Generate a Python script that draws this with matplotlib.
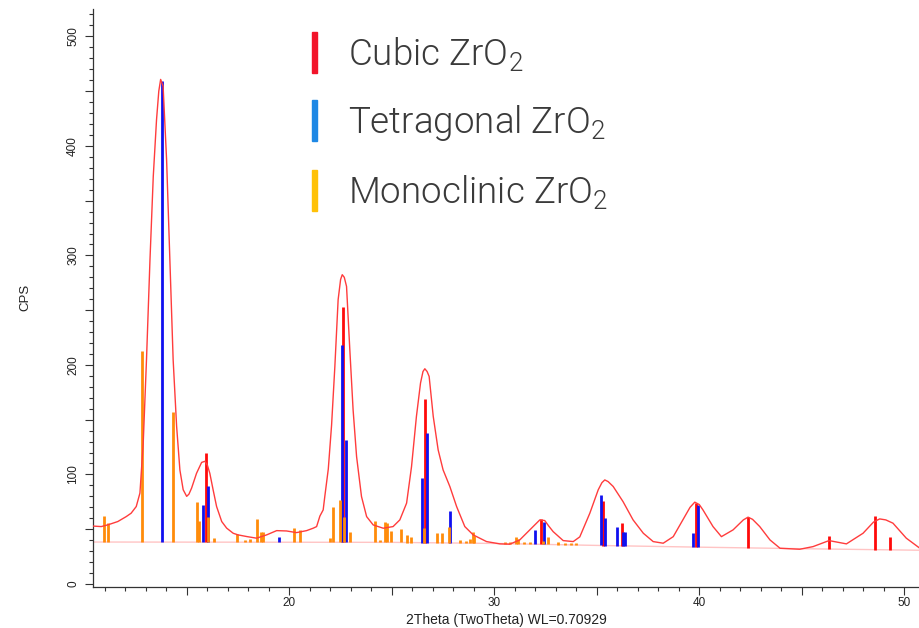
import numpy as np
import matplotlib
matplotlib.use("Agg")
import matplotlib.pyplot as plt
from matplotlib import font_manager as fm
from matplotlib.ticker import MultipleLocator, FuncFormatter
from matplotlib.patches import Rectangle

plt.rcParams["font.family"] = ["Liberation Sans", "DejaVu Sans"]

# measured diffraction profile
two_theta = [10.3, 10.82, 11.15, 11.63, 12.04, 12.28, 12.53, 12.71, 12.87, 13.03,
             13.2, 13.36, 13.52, 13.63, 13.72, 13.84, 14.01, 14.17, 14.33, 14.5,
             14.66, 14.82, 14.99, 15.1, 15.23, 15.47, 15.72, 15.88, 16.0, 16.12, 16.28, 16.45,
             16.7, 16.94, 17.26, 17.5, 17.92, 18.4, 18.89, 19.38, 19.86, 20.35,
             20.84, 21.16, 21.33, 21.49, 21.65, 21.73, 21.9, 22.06, 22.22, 22.38,
             22.5, 22.58, 22.68, 22.79, 22.95, 23.11, 23.28, 23.52, 23.77, 24.09,
             24.58, 25.06, 25.39, 25.72, 25.96, 26.2, 26.4, 26.52, 26.61, 26.72,
             26.82, 27.02, 27.26, 27.5, 27.83, 28.16, 28.56, 28.97, 29.62, 30.27,
             30.75, 31.24, 31.73, 32.05, 32.22, 32.46, 32.65, 32.87, 33.36, 33.85,
             34.17, 34.66, 35.07, 35.25, 35.39, 35.55, 35.8, 36.28, 36.77, 37.27,
             37.75, 38.24, 38.73, 39.2, 39.55, 39.78, 40.0, 40.18, 40.67, 41.08,
             41.65, 42.15, 42.38, 42.6, 42.95, 43.45, 43.94, 44.9, 45.55, 46.33,
             47.18, 47.99, 48.5, 48.8, 49.1, 49.45, 50.1, 50.72]
cps = [53, 52.4, 54, 57, 61.5, 64.6, 70.7, 83, 128.6, 204.8,
       296, 372, 424, 450, 460.7, 454.6, 387.6, 296, 204.8, 143.8,
       104, 86, 80, 82, 87.5, 101, 111, 112, 108.5, 101, 86, 70.7,
       57, 51, 46.3, 44.8, 43.3, 41.8, 44.8, 48.7, 48.4, 46.9,
       48.7, 50.9, 52.4, 62, 67.6, 80, 105, 145, 198.6, 259.6,
       278, 282.4, 280, 271.7, 213.9, 159, 116.3, 79.8, 61.5, 53.9,
       50.9, 52.4, 58.5, 73.8, 107, 153, 183.5, 194, 196.5, 194,
       189.5, 153, 122.4, 104.2, 89, 70.7, 52.4, 44.8, 38.7, 36.6,
       36.3, 40.2, 49.4, 55.5, 58.5, 57.9, 53, 47.8, 39.6, 38.7,
       43, 64.6, 86, 92.5, 95, 93.5, 89, 75.2, 58.5, 46.3,
       38.7, 37.2, 43.2, 58.5, 70, 74.7, 72.5, 67.6, 52.4, 43.2,
       49.4, 58.5, 61, 59, 52.4, 40.2, 32.6, 31.7, 34.1, 39.6,
       36.6, 46.3, 56.5, 59.4, 58.5, 55.5, 41.8, 33.2]

# background line under the reference patterns
bg_theta = [10.3, 25.0, 30.0, 35.0, 40.0, 45.0, 50.72]
bg_cps = [38.3, 38.0, 37.0, 35.2, 33.6, 32.2, 30.8]

# reference patterns: positions and peak tops
cubic_pos = [15.93, 22.64, 26.64, 32.27, 35.29, 36.23, 39.83, 42.38, 46.33, 48.58, 49.32]
cubic_top = [119.5, 253, 168.8, 59.4, 75.9, 56, 73.8, 61, 43.9, 62.2, 42.7]

tetra_pos = [13.78, 15.81, 16.02, 19.49, 22.59, 22.74, 26.46, 26.74, 27.86,
             32.0, 32.41, 35.19, 35.4, 36.0, 36.3, 36.4, 39.67, 39.93]
tetra_top = [459, 72, 89, 43, 218.5, 131, 96.6, 138.3, 66.4,
             49.4, 57, 81.6, 60.6, 51.8, 47.5, 47.5, 46.3, 72]

mono_pos = [10.97, 11.15, 12.82, 14.32, 15.5, 15.6, 16.04, 16.3, 17.43, 17.85,
            18.1, 18.4, 18.6, 18.7, 20.22, 20.53, 22.0, 22.14, 22.48, 22.69,
            22.95, 24.18, 24.41, 24.69, 24.77, 24.94, 25.47, 25.72, 25.93, 26.56,
            27.2, 27.45, 27.8, 28.33, 28.64, 28.8, 28.94, 29.02, 30.51, 30.75,
            31.07, 31.15, 31.46, 31.72, 32.37, 32.61, 33.1, 33.47, 33.75, 33.99]
mono_top = [62.4, 55.4, 213, 157, 75, 57.6, 61.5, 42, 45.5, 40,
            40.8, 59.4, 47.2, 47.2, 50.9, 49, 42, 70, 76.8, 60.8,
            47, 57.3, 40, 57, 55.5, 48.4, 50, 44.8, 42.7, 50.9,
            46.3, 46.3, 51.8, 40, 39, 40.9, 47.8, 44, 38.5, 38.5,
            42.7, 41, 38.5, 38.5, 39, 42.7, 38, 37.8, 37.6, 37.5]

legend_labels = [r"Cubic ZrO$_\mathregular{2}$",
                 r"Tetragonal ZrO$_\mathregular{2}$",
                 r"Monoclinic ZrO$_\mathregular{2}$"]
legend_colors = ["#f2142a", "#1e88e5", "#ffc107"]

W, H = 919, 628
fig = plt.figure(figsize=(W / 100, H / 100), dpi=100)
ax = fig.add_axes([93 / W, (H - 586.7) / H, 1 - 93 / W, (586.7 - 9) / H])

ax.plot(bg_theta, bg_cps, color="#ffc4c4", lw=1, zorder=1)


def sticks(pos, top, color):
    base = np.interp(pos, bg_theta, bg_cps)
    ax.vlines(pos, base, top, colors=color, lw=2.0, zorder=2)


sticks(cubic_pos, cubic_top, "#ff0a0a")
sticks(tetra_pos, tetra_top, "#1010f0")
sticks(mono_pos, mono_top, "#ff8c0a")

ax.plot(two_theta, cps, color="#ff3c3c", lw=1, zorder=3)

ax.set_xlim(10.42, 50.72)
ax.set_ylim(-2.5, 525)

for s in ["top", "right"]:
    ax.spines[s].set_visible(False)
for s in ["left", "bottom"]:
    ax.spines[s].set_color("#333333")
    ax.spines[s].set_linewidth(0.9)

ax.xaxis.set_major_locator(MultipleLocator(5))
ax.xaxis.set_minor_locator(MultipleLocator(1))
ax.yaxis.set_major_locator(MultipleLocator(50))
ax.yaxis.set_minor_locator(MultipleLocator(10))
ax.xaxis.set_major_formatter(FuncFormatter(lambda v, p: f"{v:.0f}" if v % 10 == 0 else ""))
ax.yaxis.set_major_formatter(FuncFormatter(lambda v, p: f"{v:.0f}" if v % 100 == 0 else ""))
ax.tick_params(which="major", direction="out", length=5.5, width=0.8, color="#333333",
               labelsize=8.5, labelcolor="#222222")
ax.tick_params(which="minor", direction="out", length=3, width=0.8, color="#333333")
ax.tick_params(axis="x", pad=2)
ax.tick_params(axis="y", pad=4.5)
for lab in ax.get_yticklabels():
    lab.set_rotation(90)
    lab.set_va("center")

ax.set_xlabel("2Theta (TwoTheta) WL=0.70929", fontsize=10, color="#222222")
ax.xaxis.set_label_coords(0.5, -(613 - 586.7) / 577.7)
ax.set_ylabel("CPS", fontsize=9.5, color="#222222")
ax.yaxis.set_label_coords((31 - 93) / 826, 0.5)

# phase key
roboto_light = [f.fname for f in fm.fontManager.ttflist if f.name == "Roboto" and f.weight == 300]
if roboto_light:
    key_font = fm.FontProperties(fname=roboto_light[0], size=26.5)
else:
    key_font = fm.FontProperties(family="Roboto", weight="normal", size=26.5)

bar_tops = [31.7, 100, 170]
baselines = [66, 133, 204]
for label, color, top, base in zip(legend_labels, legend_colors, bar_tops, baselines):
    fig.patches.append(Rectangle((311.7 / W, 1 - (top + 41) / H), 5.5 / W, 41 / H,
                                 transform=fig.transFigure, color=color))
    fig.text(348 / W, 1 - base / H, label, fontproperties=key_font,
             color="#3a3a3a", va="baseline")

fig.savefig("out.png", dpi=100)
